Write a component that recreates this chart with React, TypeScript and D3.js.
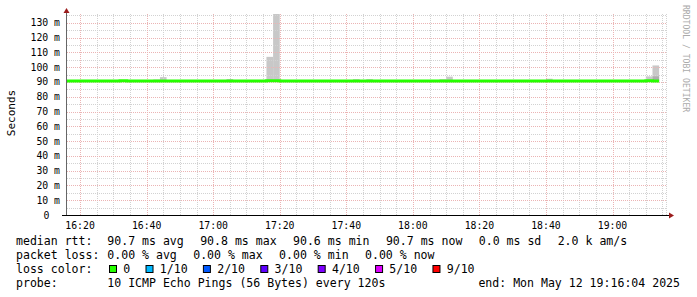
import React from "react";
import * as d3 from "d3";

// ---- data (2-minute bins starting 16:16) ----
const rttMedian = [
  90.7, 90.7, 90.7, 90.6, 90.7, 90.7, 90.7, 90.7, 90.8, 90.7,
  90.7, 90.7, 90.7, 90.7, 90.7, 90.7, 90.7, 90.6, 90.7, 90.7,
  90.7, 90.7, 90.7, 90.7, 90.7, 90.7, 90.7, 90.7, 90.7, 90.7,
  90.8, 90.8, 90.7, 90.7, 90.7, 90.7, 90.6, 90.7, 90.7, 90.7,
  90.7, 90.7, 90.7, 90.7, 90.7, 90.7, 90.7, 90.7, 90.7, 90.7,
  90.7, 90.7, 90.6, 90.7, 90.7, 90.7, 90.7, 90.7, 90.7, 90.7,
  90.7, 90.7, 90.7, 90.7, 90.7, 90.7, 90.7, 90.7, 90.7, 90.7,
  90.7, 90.7, 90.7, 90.7, 90.7, 90.7, 90.7, 90.7, 90.7, 90.7,
  90.7, 90.7, 90.7, 90.7, 90.7, 90.7, 90.7, 90.8, 90.7,
];
const rttMin = [
  90.5, 90.5, 90.5, 90.5, 90.5, 90.5, 90.5, 90.5, 90.5, 90.5,
  90.5, 90.5, 90.5, 90.5, 90.5, 90.5, 90.5, 90.5, 90.5, 90.5,
  90.5, 90.5, 90.5, 90.5, 90.5, 90.5, 90.5, 90.5, 90.5, 90.5,
  90.5, 90.5, 90.5, 90.5, 90.5, 90.5, 90.5, 90.5, 90.5, 90.5,
  90.5, 90.5, 90.5, 90.5, 90.5, 90.5, 90.5, 90.5, 90.5, 90.5,
  90.5, 90.5, 90.5, 90.5, 90.5, 90.5, 90.5, 90.5, 90.5, 90.5,
  90.5, 90.5, 90.5, 90.5, 90.5, 90.5, 90.5, 90.5, 90.5, 90.5,
  90.5, 90.5, 90.5, 90.5, 90.5, 90.5, 90.5, 90.5, 90.5, 90.5,
  90.5, 90.5, 90.5, 90.5, 90.5, 90.5, 90.5, 90.5, 90.5,
];
const rttMid = [
  91.0, 91.0, 91.0, 91.0, 91.0, 91.0, 91.0, 91.0, 91.0, 91.0,
  91.0, 91.0, 91.0, 91.0, 91.0, 91.0, 91.0, 91.0, 91.0, 91.0,
  91.0, 91.0, 91.0, 91.0, 91.0, 91.0, 91.0, 91.0, 91.0, 91.0,
  91.0, 91.0, 91.0, 91.0, 91.0, 91.0, 91.0, 91.0, 91.0, 91.0,
  91.0, 91.0, 91.0, 91.0, 91.0, 91.0, 91.0, 91.0, 91.0, 91.0,
  91.0, 91.0, 91.0, 91.0, 91.0, 91.0, 91.0, 91.0, 91.0, 91.0,
  91.0, 91.0, 91.0, 91.0, 91.0, 91.0, 91.0, 91.0, 91.0, 91.0,
  91.0, 91.0, 91.0, 91.0, 91.0, 91.0, 91.0, 91.0, 91.0, 91.0,
  91.0, 91.0, 91.0, 91.0, 91.0, 91.0, 91.0, 91.0, 93.8,
];
const rttMax = [
  91.0, 91.0, 91.0, 91.0, 91.0, 91.0, 91.0, 91.0, 91.0, 91.0,
  91.0, 91.0, 91.0, 91.7, 93.3, 91.0, 91.0, 91.0, 91.0, 91.0,
  91.0, 91.0, 91.0, 91.0, 92.0, 91.0, 91.0, 91.0, 91.0, 91.0,
  107.0, 160.0, 91.0, 91.0, 91.0, 91.0, 91.0, 91.0, 91.0, 91.0,
  91.0, 91.0, 91.0, 91.9, 91.0, 91.9, 91.0, 91.0, 91.0, 91.0,
  91.0, 91.0, 91.0, 91.0, 91.0, 91.0, 91.9, 93.6, 91.0, 91.0,
  91.0, 91.0, 91.0, 91.0, 91.0, 91.0, 91.0, 91.0, 91.0, 91.0,
  91.0, 91.0, 92.2, 91.0, 91.0, 91.0, 91.0, 91.0, 91.0, 91.0,
  91.0, 91.0, 91.0, 91.0, 91.0, 91.0, 91.0, 93.8, 101.2,
];
const yTicks = [0, 10, 20, 30, 40, 50, 60, 70, 80, 90, 100, 110, 120, 130];
const xTickLabels = ["16:20", "16:40", "17:00", "17:20", "17:40", "18:00", "18:20", "18:40", "19:00"];
const lossLabels = ["0", "1/10", "2/10", "3/10", "4/10", "5/10", "9/10"];
const lossColors = ["#26ff00", "#00b8ff", "#0059ff", "#5e00ff", "#7e00ff", "#dd00ff", "#ff0000"];

const rttItems = ["90.7 ms avg", "90.8 ms max", "90.6 ms min", "90.7 ms now", "0.0 ms sd", "2.0 k am/s"];
const lossItemsText = ["0.00 % avg", "0.00 % max", "0.00 % min", "0.00 % now"];
const probeText = "10 ICMP Echo Pings (56 Bytes) every 120s";
const endText = "end: Mon May 12 19:16:04 2025";

const START = new Date(2025, 4, 12, 16, 16, 4);
const END = new Date(2025, 4, 12, 19, 16, 4);
const BIN0 = new Date(2025, 4, 12, 16, 16, 0);
const STEP_MS = 120000;

const MONO = "'DejaVu Sans Mono', monospace";

export default function App() {
  const W = 697, H = 297;
  const left = 67, right = 666, top = 14, bottom = 215;
  const x = d3.scaleTime().domain([START, END]).range([left, right]);
  const y = d3.scaleLinear().domain([0, 136]).range([bottom, top]);

  const binStart = (i: number) => new Date(BIN0.getTime() + i * STEP_MS);
  const binEnd = (i: number) => new Date(BIN0.getTime() + (i + 1) * STEP_MS);

  const minorX = d3.timeMinute.every(5)!.range(START, END).filter((d) => d.getMinutes() % 20 !== 0);
  const majorX = d3.timeMinute.every(20)!.range(START, END);
  const minorY = d3.range(5, 136, 10);

  const pts: [Date, number][] = rttMedian.map((v, i) => [binStart(i), v]);
  pts.push([binEnd(rttMedian.length - 1), rttMedian[rttMedian.length - 1]]);
  const line = d3
    .line<[Date, number]>()
    .x((d) => x(d[0]))
    .y((d) => y(d[1]))
    .curve(d3.curveStepAfter);

  const fmt = d3.timeFormat("%H:%M");
  const legendY = [245.3, 259, 272.8, 286.5];
  const cw = 6.96;
  const legX = 16;
  const col2 = 107.3;
  const gap = 16.3;

  const layout = (items: string[]) => {
    let cx = col2;
    return items.map((t) => {
      const pos = cx;
      cx += t.length * cw + gap;
      return { t, pos };
    });
  };
  const row1 = layout(rttItems);
  const row2 = layout(lossItemsText);

  let bx = 109;
  const lossItems = lossLabels.map((lab, i) => {
    const b = bx;
    bx += 14.3 + lab.length * cw + 15.25;
    return { lab, col: lossColors[i], bx: b, tx: b + 14.3 };
  });

  const pre = { whiteSpace: "pre" as const };

  return (
    <svg width={W} height={H} style={{ position: "absolute", left: 0, top: 0, background: "#fff" }}>
      <defs>
        <clipPath id="plot">
          <rect x={left} y={top} width={right - left} height={bottom - top} />
        </clipPath>
      </defs>
      <rect x={0} y={0} width={W} height={H} fill="#fff" />
      {/* smoke */}
      <g clipPath="url(#plot)">
        {rttMax.map((v, i) => (
          <rect
            key={"o" + i}
            x={x(binStart(i))}
            width={x(binEnd(i)) - x(binStart(i))}
            y={y(v)}
            height={y(rttMin[i]) - y(v)}
            fill="#c8c8c8"
          />
        ))}
        {rttMid.map((v, i) => (
          <rect
            key={"m" + i}
            x={x(binStart(i))}
            width={x(binEnd(i)) - x(binStart(i))}
            y={y(v)}
            height={y(rttMin[i]) - y(v)}
            fill="#adadad"
          />
        ))}
      </g>
      {/* grid */}
      <g strokeDasharray="1,1" strokeWidth={1} shapeRendering="crispEdges">
        {minorY.map((v) => (
          <line key={"my" + v} x1={left} x2={right} y1={Math.round(y(v)) + 0.5} y2={Math.round(y(v)) + 0.5} stroke="#d2d2d2" />
        ))}
        {minorX.map((d) => (
          <line key={"mx" + d.getTime()} x1={Math.round(x(d)) + 0.5} x2={Math.round(x(d)) + 0.5} y1={top} y2={bottom} stroke="#d2d2d2" />
        ))}
        <line x1={right + 0.5} x2={right + 0.5} y1={top} y2={bottom} stroke="#d2d2d2" />
        {yTicks.slice(1).map((v) => (
          <line key={"My" + v} x1={left} x2={right} y1={Math.round(y(v)) + 0.5} y2={Math.round(y(v)) + 0.5} stroke="#ebb4b4" />
        ))}
        {majorX.map((d) => (
          <line key={"Mx" + d.getTime()} x1={Math.round(x(d)) + 0.5} x2={Math.round(x(d)) + 0.5} y1={top} y2={bottom} stroke="#ebb4b4" />
        ))}
      </g>
      {/* median line */}
      <g clipPath="url(#plot)">
        <path d={line(pts) || ""} fill="none" stroke="#26ff00" strokeWidth={3} />
      </g>
      {/* axes */}
      <line x1={66.5} x2={66.5} y1={bottom} y2={9} stroke="#666" strokeWidth={1} />
      <path d="M63.5,13 L69.5,13 L66.5,8 Z" fill="#9b1c1c" />
      <line x1={62} x2={670} y1={215.5} y2={215.5} stroke="#000" strokeWidth={1} />
      <path d="M669,212.5 L669,218.5 L674,215.5 Z" fill="#9b1c1c" />
      {/* tick labels */}
      <g fontFamily={MONO} fontSize={9.8} fill="#000">
        {yTicks.map((v) => (
          <text key={"yl" + v} x={v === 0 ? 49.5 : 60} y={y(v) + 3.5} textAnchor="end">
            {v === 0 ? "0" : `${v} m`}
          </text>
        ))}
        {majorX.map((d, i) => (
          <text key={"xl" + i} x={x(d)} y={228.5} textAnchor="middle">
            {xTickLabels[i] ?? fmt(d)}
          </text>
        ))}
      </g>
      <text
        transform="translate(15,113) rotate(-90)"
        textAnchor="middle"
        fontFamily={MONO}
        fontSize={11}
        fill="#000"
      >
        Seconds
      </text>
      <text
        transform="translate(683,5) rotate(90)"
        textAnchor="start"
        fontFamily={MONO}
        fontSize={8.1}
        fill="#aaa"
      >
        RRDTOOL / TOBI OETIKER
      </text>
      {/* legend */}
      <g fontFamily={MONO} fontSize={11.56} fill="#000">
        <text x={legX} y={legendY[0]} style={pre}>median rtt:</text>
        {row1.map((it) => (
          <text key={it.t} x={it.pos} y={legendY[0]} xmlSpace="preserve" style={pre}>{it.t}</text>
        ))}
        <text x={legX} y={legendY[1]} style={pre}>packet loss:</text>
        {row2.map((it) => (
          <text key={it.t} x={it.pos} y={legendY[1]} xmlSpace="preserve" style={pre}>{it.t}</text>
        ))}
        <text x={legX} y={legendY[2]} style={pre}>loss color:</text>
        {lossItems.map((it) => (
          <g key={it.lab}>
            <rect x={it.bx + 0.5} y={265.5} width={7} height={7} fill={it.col} stroke="#000" strokeWidth={1} />
            <text x={it.tx} y={legendY[2]}>{it.lab}</text>
          </g>
        ))}
        <text x={legX} y={legendY[3]}>probe:</text>
        <text x={col2} y={legendY[3]} xmlSpace="preserve" style={pre}>{probeText}</text>
        <text x={680} y={legendY[3]} textAnchor="end" xmlSpace="preserve" style={pre}>{endText}</text>
      </g>
    </svg>
  );
}
